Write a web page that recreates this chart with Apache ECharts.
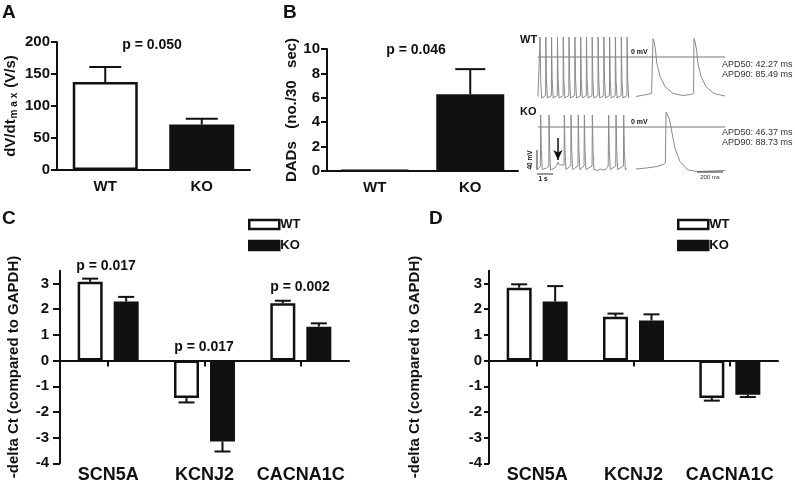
<!DOCTYPE html>
<html><head><meta charset="utf-8">
<script src="https://cdn.jsdelivr.net/npm/echarts@6/dist/echarts.min.js"></script>
<style>html,body{margin:0;padding:0;background:#fff}#c{width:795px;height:486px}</style>
</head><body><div id="c"></div>
<script>
// ---------- data ----------
const groupCats = ['WT', 'KO'];
const dvdtMean = [137.5, 71];
const dvdtSem = [23.5, 9];
const dadMean = [0.05, 6.3];
const dadSem = [0, 2.05];
const genes = ['SCN5A', 'KCNJ2', 'CACNA1C'];
const cWT = [3.07, -1.46, 2.23];
const cWTSem = [0.12, 0.17, 0.10];
const cKO = [2.30, -3.15, 1.32];
const cKOSem = [0.18, 0.39, 0.13];
const dWT = [2.84, 1.71, -1.46];
const dWTSem = [0.13, 0.12, 0.10];
const dKO = [2.30, 1.56, -1.33];
const dKOSem = [0.60, 0.24, 0.09];
const ctTicks = [-4, -3, -2, -1, 0, 1, 2, 3];
// action potential traces: [time (s), mV] and [time (ms), mV]
const wtTrace = [[0.06,-79],[0.18,-77],[0.19,40],[0.23,-45],[0.29,-82],
[0.54,-77],[0.55,40],[0.59,-45],[0.65,-82],[0.90,-77],[0.91,40],[0.95,-45],[1.01,-82],
[1.27,-77],[1.28,40],[1.32,-45],[1.38,-82],[1.63,-77],[1.64,40],[1.68,-45],[1.74,-82],
[1.99,-77],[2.00,40],[2.04,-45],[2.10,-82],[2.36,-77],[2.37,40],[2.41,-45],[2.47,-82],
[2.72,-77],[2.73,40],[2.77,-45],[2.83,-82],[3.08,-77],[3.09,40],[3.13,-45],[3.19,-82],
[3.44,-77],[3.45,40],[3.49,-45],[3.55,-82],[3.81,-77],[3.82,40],[3.86,-45],[3.92,-82],
[4.17,-77],[4.18,40],[4.22,-45],[4.28,-82],[4.53,-77],[4.54,40],[4.58,-45],[4.64,-82],
[4.89,-77],[4.90,40],[4.94,-45],[5.00,-82],[5.26,-77],[5.27,40],[5.31,-45],[5.37,-82],
[5.62,-77],[5.63,40],[5.67,-45],[5.73,-82]];
const koTrace = [[0.06,-84],[0.21,-79],[0.23,24],[0.27,-45],[0.33,-85],
[0.60,-82],[0.74,-79],[0.75,24],[0.79,-45],[0.85,-86],
[1.10,-82],[1.22,-77],[1.31,-70],[1.40,-76],[1.50,-80],[1.69,-76],[1.71,24],[1.75,-45],[1.81,-85],
[2.11,-78],[2.13,24],[2.17,-45],[2.23,-85],[2.56,-78],[2.58,24],[2.62,-45],[2.68,-85],
[2.94,-78],[2.96,24],[3.00,-45],[3.06,-85],[3.44,-78],[3.46,24],[3.50,-45],[3.56,-85],
[3.80,-87],[3.95,-84],[4.10,-86],[4.30,-85],[4.45,-78],[4.48,24],[4.52,-45],[4.58,-85],
[4.92,-78],[4.94,24],[4.98,-45],[5.04,-85],[5.40,-78],[5.42,24],[5.46,-45],[5.52,-85],[5.62,-84]];
const wtZoom = [[0,-79],[60,-76],[120,-73],[128,-72],[131,37],[138,32],[150,14],[160,-12],[185,-39],
[223,-59],[285,-73],[362,-77],[420,-75],[443,-73],[446,37],[453,32],[466,14],[476,-12],[500,-39],
[538,-59],[600,-73],[684,-78]];
const koZoom = [[0,-84],[80,-82],[160,-79],[210,-75],[226,-72],[231,30],[240,28],[256,17],[275,-9],
[300,-43],[338,-69],[402,-86],[467,-89],[684,-87]];
const dadArrow = [1.31, -22, -66];
const apdWT = ['APD50: 42.27 ms', 'APD90: 85.49 ms'];
const apdKO = ['APD50: 46.37 ms', 'APD90: 88.73 ms'];

// ---------- styles ----------
const FONT = "'Liberation Sans', Arial, Helvetica, sans-serif";
const INK = '#111';
const TRACE = '#8a8a8a';
const hollow = {color: '#fff', borderColor: INK, borderWidth: 2.5};
const filled = {color: INK, borderColor: INK, borderWidth: 2.5};
const axLine = {show: true, lineStyle: {color: INK, width: 2}};
const tickLbl = {fontFamily: FONT, fontWeight: 'bold', fontSize: 15, color: INK};

function valueY(grid, min, max, interval, name, gap, margin, extra) {
  return Object.assign({
    type: 'value', gridIndex: grid, min: min, max: max, interval: interval,
    splitLine: {show: false}, axisLine: axLine,
    axisTick: {show: true, length: 6, lineStyle: {color: INK, width: 2}},
    axisLabel: Object.assign({margin: margin}, tickLbl),
    name: name, nameLocation: 'middle', nameGap: gap,
    nameTextStyle: {fontFamily: FONT, fontWeight: 'bold', fontSize: 15, color: INK}
  }, extra || {});
}
function errSeries(xi, yi, mean, sem, offset, capHalf) {
  return {
    type: 'custom', xAxisIndex: xi, yAxisIndex: yi, z: 3, silent: true,
    data: mean.map((m, i) => [i, m, sem[i]]),
    renderItem: function (params, api) {
      const i = api.value(0), m = api.value(1), s = api.value(2);
      if (!s) return {type: 'group', children: []};
      const dir = m < 0 ? -1 : 1;
      const p0 = api.coord([i, m]);
      const p1 = api.coord([i, m + dir * s]);
      const x = p0[0] + offset;
      return {type: 'group', children: [
        {type: 'line', shape: {x1: x, y1: p0[1], x2: x, y2: p1[1]}, style: {stroke: INK, lineWidth: 2}},
        {type: 'line', shape: {x1: x - capHalf, y1: p1[1], x2: x + capHalf, y2: p1[1]}, style: {stroke: INK, lineWidth: 2}}
      ]};
    }
  };
}
function traceLine(xi, yi, data, color, width) {
  return {type: 'line', xAxisIndex: xi, yAxisIndex: yi, data: data, showSymbol: false, symbol: 'none',
    silent: true, lineStyle: {color: color, width: width}};
}
function txt(x, y, text, size, opts) {
  opts = opts || {};
  return {type: 'text', x: x, y: y, rotation: opts.rot || 0, silent: true,
    style: {text: text, fill: opts.color || INK, fontFamily: FONT, fontSize: size,
      fontWeight: opts.weight || 'bold', align: opts.align || 'left', verticalAlign: opts.va || 'middle'}};
}
function legendFor(left) {
  return {left: left, top: 213, orient: 'vertical', icon: 'rect', itemWidth: 30, itemHeight: 9,
    itemGap: 8, selectedMode: false,
    textStyle: {fontFamily: FONT, fontWeight: 'bold', fontSize: 13, color: INK, padding: [0, 0, 0, -4]},
    data: [{name: 'WT', itemStyle: hollow}, {name: 'KO', itemStyle: filled}]};
}

const ctLabelAxis = (grid) => ({type: 'category', gridIndex: grid, data: genes, position: 'bottom',
  axisLine: {show: false}, axisTick: {show: false},
  axisLabel: {interval: 0, hideOverlap: false, margin: 3, fontFamily: FONT, fontWeight: 'bold', fontSize: 18, color: INK}});
const ctMainAxis = (grid) => ({type: 'category', gridIndex: grid, data: genes, position: 'bottom',
  axisLine: {show: true, onZero: true, lineStyle: {color: INK, width: 2}},
  axisTick: {show: true, alignWithLabel: true, length: 6, lineStyle: {color: INK, width: 2}},
  axisLabel: {show: false}});
const hiddenVal = (grid, min, max) => ({type: 'value', gridIndex: grid, min: min, max: max, show: false,
  splitLine: {show: false}});

const SEC_MIN = -0.125, SEC_MAX = 11.75, MS_MIN = -776.9, MS_MAX = 684.6;

const option = {
  animation: false,
  backgroundColor: '#fff',
  grid: [
    {left: 57, top: 42, width: 193, height: 128},
    {left: 327, top: 49, width: 191, height: 122},
    {left: 60, top: 270.7, width: 289, height: 192.6},
    {left: 489, top: 270.7, width: 289, height: 192.6},
    {left: 535, top: 32, width: 190, height: 75},
    {left: 535, top: 102, width: 190, height: 75}
  ],
  xAxis: [
    {type: 'category', gridIndex: 0, data: groupCats, axisLine: axLine, axisTick: {show: false},
      axisLabel: Object.assign({margin: 9}, tickLbl)},
    {type: 'category', gridIndex: 1, data: groupCats, axisLine: axLine, axisTick: {show: false},
      axisLabel: Object.assign({margin: 9}, tickLbl)},
    ctMainAxis(2), ctLabelAxis(2),
    ctMainAxis(3), ctLabelAxis(3),
    hiddenVal(4, SEC_MIN, SEC_MAX), hiddenVal(4, MS_MIN, MS_MAX),
    hiddenVal(5, SEC_MIN, SEC_MAX), hiddenVal(5, MS_MIN, MS_MAX)
  ],
  yAxis: [
    valueY(0, 0, 200, 50, 'dV/dt{s|m a x} (V/s)', 38, 7, {nameTextStyle: {fontFamily: FONT, fontWeight: 'bold', fontSize: 15, color: INK,
      rich: {s: {fontFamily: FONT, fontWeight: 'bold', fontSize: 10, color: INK, verticalAlign: 'bottom', padding: [6, 1, 0, 1]}}}}),
    valueY(1, 0, 10, 2, 'DADs   (no./30   sec)', 22, 7),
    valueY(2, -4, 3.5, 1, '-delta Ct (compared to GAPDH)', 39, 11,
      {axisLabel: Object.assign({margin: 11, customValues: ctTicks}, tickLbl),
       axisTick: {show: true, length: 7, customValues: ctTicks, lineStyle: {color: INK, width: 2}}}),
    valueY(3, -4, 3.5, 1, '-delta Ct (compared to GAPDH)', 67, 7,
      {axisLabel: Object.assign({margin: 7, customValues: ctTicks}, tickLbl),
       axisTick: {show: true, length: 5, customValues: ctTicks, lineStyle: {color: INK, width: 2}}}),
    hiddenVal(4, -100, 50),
    hiddenVal(5, -100, 50)
  ],
  legend: [legendFor(243), legendFor(672)],
  series: [
    {type: 'bar', name: 'A', xAxisIndex: 0, yAxisIndex: 0, barWidth: 65, silent: true,
      data: dvdtMean.map((v, i) => ({value: v, itemStyle: i === 0 ? hollow : filled}))},
    errSeries(0, 0, dvdtMean, dvdtSem, 0, 16),
    {type: 'bar', name: 'B', xAxisIndex: 1, yAxisIndex: 1, barWidth: 68, silent: true,
      data: dadMean.map((v, i) => ({value: v, itemStyle: i === 0 ? hollow : filled}))},
    errSeries(1, 1, dadMean, dadSem, 0, 15),
    {type: 'bar', name: 'WT', xAxisIndex: 2, yAxisIndex: 2, barWidth: 25, barGap: '44%', itemStyle: hollow, data: cWT, silent: true},
    {type: 'bar', name: 'KO', xAxisIndex: 2, yAxisIndex: 2, barWidth: 25, barGap: '44%', itemStyle: filled, data: cKO, silent: true},
    errSeries(2, 2, cWT, cWTSem, -18, 8),
    errSeries(2, 2, cKO, cKOSem, 18, 8),
    {type: 'bar', name: 'WT', xAxisIndex: 4, yAxisIndex: 3, barWidth: 25, barGap: '44%', itemStyle: hollow, data: dWT, silent: true},
    {type: 'bar', name: 'KO', xAxisIndex: 4, yAxisIndex: 3, barWidth: 25, barGap: '44%', itemStyle: filled, data: dKO, silent: true},
    errSeries(4, 3, dWT, dWTSem, -18, 8),
    errSeries(4, 3, dKO, dKOSem, 18, 8),
    // traces
    traceLine(6, 4, [[0.06, 0], [SEC_MAX, 0]], '#777', 1),
    traceLine(6, 4, wtTrace, TRACE, 1),
    traceLine(7, 4, wtZoom, TRACE, 1),
    traceLine(8, 5, [[0.06, 0], [SEC_MAX, 0]], '#777', 1),
    Object.assign(traceLine(8, 5, koTrace, TRACE, 1), {
      markLine: {silent: true, symbol: ['none', 'arrow'], symbolSize: [7, 10], label: {show: false},
        lineStyle: {color: INK, width: 1.5, type: 'solid'},
        data: [[{coord: [dadArrow[0], dadArrow[1]]}, {coord: [dadArrow[0], dadArrow[2]]}]]}
    }),
    traceLine(9, 5, koZoom, TRACE, 1),
    // scale bars
    traceLine(8, 5, [[0, -86], [0, -46]], '#333', 1),
    traceLine(8, 5, [[0, -94], [1, -94]], '#333', 1),
    traceLine(9, 5, [[469, -90], [669, -90]], '#333', 1)
  ],
  graphic: [
    txt(2, 13, 'A', 19), txt(283, 13, 'B', 19), txt(2, 219, 'C', 19), txt(429, 219, 'D', 19),
    txt(152, 45, 'p = 0.050', 14, {align: 'center'}),
    txt(416, 50, 'p = 0.046', 14, {align: 'center'}),
    txt(106, 266, 'p = 0.017', 14, {align: 'center'}),
    txt(204, 347, 'p = 0.017', 14, {align: 'center'}),
    txt(300, 287, 'p = 0.002', 14, {align: 'center'}),
    txt(520, 40, 'WT', 11), txt(520, 112, 'KO', 11),
    txt(631, 52, '0 mV', 7), txt(631, 122, '0 mV', 7),
    txt(722, 65, apdWT[0], 9, {weight: 'normal', color: '#333'}),
    txt(722, 75, apdWT[1], 9, {weight: 'normal', color: '#333'}),
    txt(722, 133, apdKO[0], 9, {weight: 'normal', color: '#333'}),
    txt(722, 143, apdKO[1], 9, {weight: 'normal', color: '#333'}),
    txt(530, 160, '40 mV', 6.5, {align: 'center', rot: Math.PI / 2}),
    txt(543, 179, '1 s', 6.5, {align: 'center'}),
    txt(710, 177, '200 ms', 6, {align: 'center', weight: 'normal', color: '#333'})
  ]
};
echarts.init(document.getElementById('c'), null, {renderer: 'canvas'}).setOption(option);
</script></body></html>
